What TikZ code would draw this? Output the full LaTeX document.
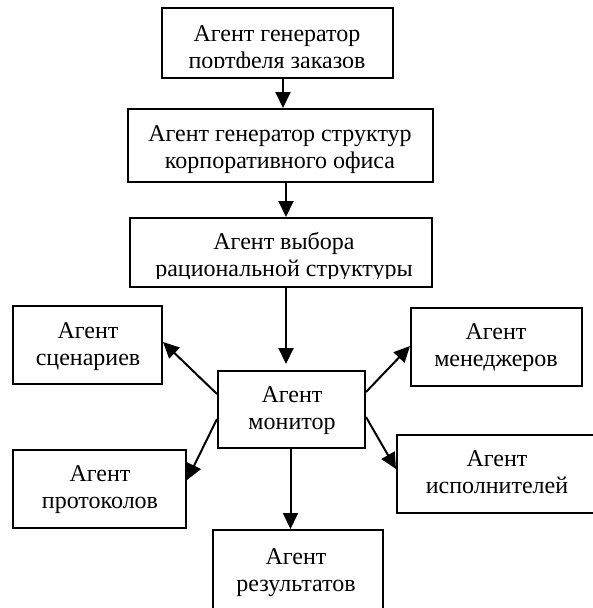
\documentclass[tikz,border=0pt]{standalone}
\usepackage{fontspec}
\setmainfont{Liberation Serif}
\usetikzlibrary{arrows.meta,calc}
\tikzset{
  box/.style={draw, line width=2pt, inner sep=0pt},
  lbl/.style={inner sep=0pt, align=center, font=\fontsize{24}{27}\selectfont},
  arr/.style={line width=2pt, -{Triangle[length=16pt,width=15pt]}}
}
\begin{document}
\begin{tikzpicture}[x=1pt,y=-1pt]
\useasboundingbox (0,0) rectangle (592,608);
% boxes
\node[box,minimum width=231pt,minimum height=70pt] (b1) at (277.5,43) {};
\node[box,minimum width=305pt,minimum height=73pt] (b2) at (280.5,145.5) {};
\node[box,minimum width=302pt,minimum height=69pt] (b3) at (281,252.5) {};
\node[box,minimum width=147pt,minimum height=77pt] (mon) at (291.5,409.5) {};
\node[box,minimum width=149pt,minimum height=78pt] (scen) at (87.5,345) {};
\node[box,minimum width=171pt,minimum height=78pt] (man) at (496.5,347) {};
\node[box,minimum width=173pt,minimum height=78pt] (prot) at (99.5,489) {};
\node[box,minimum width=199pt,minimum height=78pt] (exec) at (496.5,474) {};
\node[box,minimum width=170pt,minimum height=82pt] (res) at (298,571) {};
% texts
\begin{scope}
  \clip (b1.north west) rectangle (393,67.5);
  \node[lbl] (t1) at (277,50) {\strut Агент генератор\\\strut портфеля заказов};
\end{scope}
\node[lbl] (t2) at (280,150) {\strut Агент генератор структур\\\strut корпоративного офиса};
\begin{scope}
  \clip (b3.north west) rectangle (432,278.3);
  \node[lbl] (t3) at (284,258) {\strut Агент выбора\\\strut рациональной структуры};
\end{scope}
\node[lbl] (tmon) at (292,411) {\strut Агент\\\strut монитор};
\node[lbl] (tscen) at (88,347) {\strut Агент\\\strut сценариев};
\node[lbl] (tman) at (496,348) {\strut Агент\\\strut менеджеров};
\node[lbl] (tprot) at (100,490) {\strut Агент\\\strut протоколов};
\node[lbl] (texec) at (497,475) {\strut Агент\\\strut исполнителей};
\node[lbl] (tres) at (296,573) {\strut Агент\\\strut результатов};
% connectors
\draw[arr] ([xshift=5.5pt]b1.south) -- ([xshift=5.5pt]b1.south |- b2.north);
\draw[arr] ([xshift=5.5pt]b2.south) -- ([xshift=5.5pt]b2.south |- b3.north);
\draw[arr] ([xshift=5pt]b3.south) -- ([xshift=5pt,yshift=6pt]b3.south |- mon.north);
\draw[arr] ([yshift=-24pt]mon.north west) -- ([yshift=-37pt]scen.north east);
\draw[arr] ([yshift=-22pt]mon.north east) -- ([yshift=-39pt]man.north west);
\draw[arr] ([yshift=-49pt]mon.north west) -- ([yshift=-31pt]prot.north east);
\draw[arr] ([yshift=-47pt]mon.north east) -- ([yshift=-35pt]exec.north west);
\draw[arr] ([xshift=-1pt]mon.south) -- ([xshift=-1pt]mon.south |- res.north);
\end{tikzpicture}
\end{document}
